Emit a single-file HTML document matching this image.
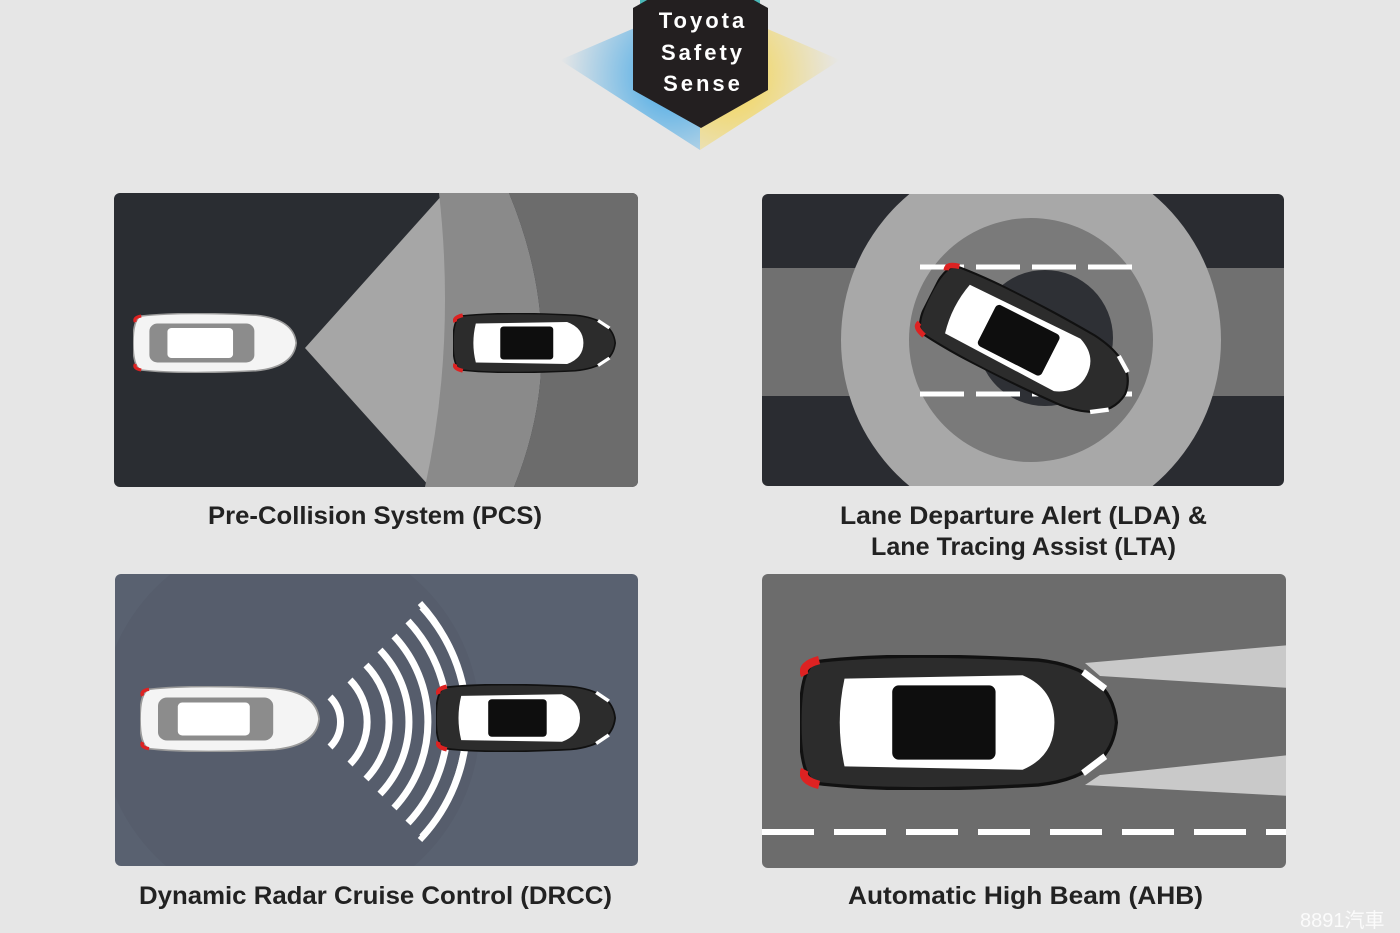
<!DOCTYPE html>
<html><head><meta charset="utf-8"><style>
html,body{margin:0;padding:0;background:#e6e6e6;}
svg{display:block}
</style></head><body>
<svg width="1400" height="933" viewBox="0 0 1400 933" xmlns="http://www.w3.org/2000/svg">
<defs>
<radialGradient id="gb" cx="0.8" cy="0.5" r="0.8"><stop offset="0" stop-color="#2a9ee6"/><stop offset="1" stop-color="#2a9ee6" stop-opacity="0"/></radialGradient>
<radialGradient id="gy" cx="0.2" cy="0.5" r="0.8"><stop offset="0" stop-color="#f6d23a"/><stop offset="1" stop-color="#f6d23a" stop-opacity="0"/></radialGradient>
<symbol id="carW" viewBox="0 0 200 80" preserveAspectRatio="none">
<path d="M10 4 Q60 -2 150 3 Q196 8 199 40 Q196 72 150 77 Q60 82 10 76 Q0 72 0 40 Q0 8 10 4Z" fill="#f4f4f4" stroke="#9a9a9a" stroke-width="2"/>
<path d="M3 12 Q0 6 10 4" fill="none" stroke="#d22" stroke-width="4"/>
<path d="M3 68 Q0 74 10 76" fill="none" stroke="#d22" stroke-width="4"/>
<rect x="20" y="14" width="128" height="52" rx="10" fill="#8c8c8c"/>
<rect x="42" y="20" width="80" height="40" rx="5" fill="#fff"/>
</symbol>
<symbol id="carB" viewBox="0 0 200 80" preserveAspectRatio="none">
<path d="M10 4 Q60 -2 150 3 Q196 8 199 40 Q196 72 150 77 Q60 82 10 76 Q0 72 0 40 Q0 8 10 4Z" fill="#2c2c2c" stroke="#111" stroke-width="2"/>
<path d="M3 12 Q0 6 12 3" fill="none" stroke="#d22" stroke-width="5"/>
<path d="M3 68 Q0 74 12 77" fill="none" stroke="#d22" stroke-width="5"/>
<path d="M28 14 L140 12 Q160 20 160 40 Q160 60 140 68 L28 66 Q22 40 28 14Z" fill="#fff"/>
<rect x="58" y="18" width="65" height="44" rx="4" fill="#0e0e0e"/>
<path d="M178 10 L192 20" stroke="#fff" stroke-width="4"/>
<path d="M178 70 L192 60" stroke="#fff" stroke-width="4"/>
</symbol>
<clipPath id="c1"><rect x="114" y="193" width="524" height="294" rx="6"/></clipPath>
<clipPath id="c2"><rect x="762" y="194" width="522" height="292" rx="6"/></clipPath>
<clipPath id="c3"><rect x="115" y="574" width="523" height="292" rx="6"/></clipPath>
<clipPath id="c4"><rect x="762" y="574" width="524" height="294" rx="6"/></clipPath>
</defs>

<!-- logo -->
<polygon points="560,60 700,0 700,150" fill="url(#gb)" opacity="0.9"/>
<polygon points="840,60 700,0 700,150" fill="url(#gy)" opacity="0.9"/>
<polygon points="640,0 760,0 760,8 640,8" fill="#4bb8b8"/>
<polygon points="700,-30 768,8 768,90 701,128 633,90 633,8" fill="#231f20"/>
<g fill="#fff" font-family="Liberation Sans, sans-serif" font-size="22" font-weight="bold" text-anchor="middle" letter-spacing="3">
<text x="703" y="28">Toyota</text><text x="703" y="60">Safety</text><text x="703" y="91">Sense</text></g>

<!-- PCS -->
<g clip-path="url(#c1)">
<rect x="114" y="193" width="524" height="294" fill="#2a2d32"/>
<polygon points="305,348 444,193 470,193 470,487 430,487" fill="#a6a6a6"/>
<path d="M439 193 L509 193 Q572 345 514 487 L425 487 Q456 345 439 193Z" fill="#8a8a8a"/>
<path d="M509 193 L640 193 L640 487 L514 487 Q572 345 509 193Z" fill="#6c6c6c"/>
</g>
<use href="#carW" x="133" y="313" width="164" height="60"/>
<use href="#carB" x="453" y="313" width="163" height="60"/>

<!-- LDA -->
<g clip-path="url(#c2)">
<rect x="762" y="194" width="522" height="292" fill="#2a2c31"/>
<rect x="762" y="268" width="522" height="128" fill="#707070"/>
<circle cx="1031" cy="340" r="190" fill="#a8a8a8"/>
<circle cx="1031" cy="340" r="122" fill="#7a7a7a"/>
<circle cx="1045" cy="338" r="68" fill="#2e3035"/>
<g stroke="#fff" stroke-width="5"><path d="M920 267 H1136" stroke-dasharray="44 12"/><path d="M920 394 H1136" stroke-dasharray="44 12"/></g>
</g>
<g transform="translate(1028,345) rotate(27)"><use href="#carB" x="-110" y="-42" width="220" height="84"/></g>

<!-- DRCC -->
<g clip-path="url(#c3)">
<rect x="115" y="574" width="523" height="292" fill="#596170"/>
<circle cx="290" cy="722" r="190" fill="#4f5664" opacity="0.35"/>
<g fill="none" stroke="#fff" stroke-width="7">
<path d="M330 697 A35 35 0 0 1 330 747"/>
<path d="M350 680 A60 60 0 0 1 350 764"/>
<path d="M366 665 A82 82 0 0 1 366 779"/>
<path d="M380 650 A104 104 0 0 1 380 794"/>
<path d="M394 636 A126 126 0 0 1 394 808"/>
<path d="M408 621 A148 148 0 0 1 408 823"/>
<path d="M422 607 A170 170 0 0 1 422 837"/>
</g>
<path d="M420 603 A175 175 0 0 1 420 840" fill="none" stroke="#fff" stroke-width="6"/>
</g>
<use href="#carW" x="140" y="686" width="180" height="66"/>
<use href="#carB" x="436" y="684" width="180" height="68"/>

<!-- AHB -->
<g clip-path="url(#c4)">
<rect x="762" y="574" width="524" height="294" fill="#6c6c6c"/>
<polygon points="1085,663 1290,645 1290,688 1100,676" fill="#c9c9c9"/>
<polygon points="1100,775 1290,755 1290,796 1085,785" fill="#c9c9c9"/>
<path d="M762 832 H1290" stroke="#fff" stroke-width="6" stroke-dasharray="52 20"/>
</g>
<use href="#carB" x="800" y="655" width="318" height="135"/>

<!-- labels -->
<g font-family="Liberation Sans, sans-serif" font-size="25" fill="#222" font-weight="bold">
<text x="208" y="524" textLength="334" lengthAdjust="spacingAndGlyphs">Pre-Collision System (PCS)</text>
<text x="840" y="524" textLength="367" lengthAdjust="spacingAndGlyphs">Lane Departure Alert (LDA) &amp;</text>
<text x="871" y="555" textLength="305" lengthAdjust="spacingAndGlyphs">Lane Tracing Assist (LTA)</text>
<text x="139" y="904" textLength="473" lengthAdjust="spacingAndGlyphs">Dynamic Radar Cruise Control (DRCC)</text>
<text x="848" y="904" textLength="355" lengthAdjust="spacingAndGlyphs">Automatic High Beam (AHB)</text>
</g>
<text x="1300" y="927" font-family="Liberation Sans, 'Noto Sans CJK TC', sans-serif" font-size="20" fill="#fff" opacity="0.85">8891汽車</text>
</svg>
</body></html>
